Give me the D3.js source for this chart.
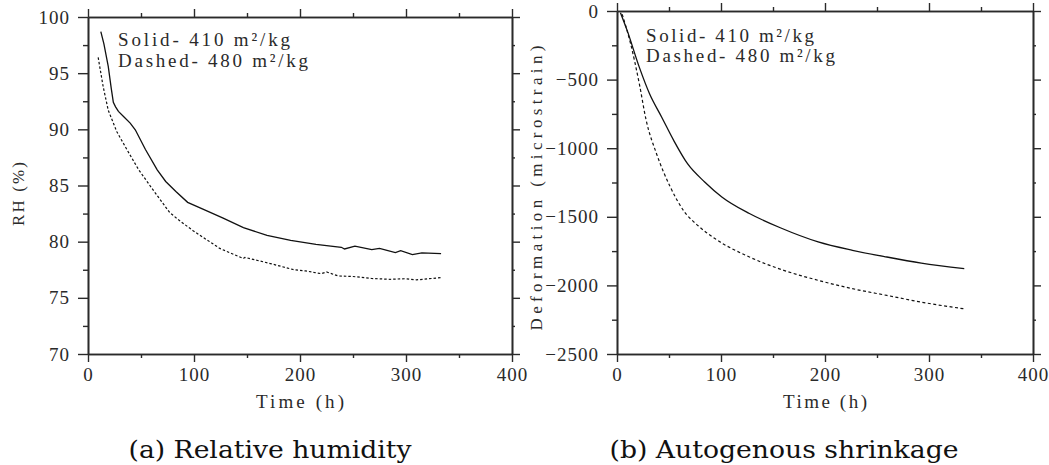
<!DOCTYPE html>
<html><head><meta charset="utf-8">
<script src="https://cdn.jsdelivr.net/npm/d3@7"></script>
<style>body{margin:0;background:#fff} svg{display:block}</style>
</head><body>
<svg id="chart" width="1049" height="465"></svg>
<script>
// ---------- data ----------
const xTicks = [0, 100, 200, 300, 400];
const xMinor = [50, 150, 250, 350];
const rhTicks = [70, 75, 80, 85, 90, 95, 100];
const rhMinor = [72.5, 77.5, 82.5, 87.5, 92.5, 97.5];
const defTicks = [0, -500, -1000, -1500, -2000, -2500];
const defMinor = [-250, -750, -1250, -1750, -2250];
const legendLabels = ["Solid- 410 m\u00b2/kg", "Dashed- 480 m\u00b2/kg"];
const xTitle = "Time (h)";
const rhTitle = "RH (%)";
const defTitle = "Deformation (microstrain)";
const captions = ["(a) Relative humidity", "(b) Autogenous shrinkage"];

const rhSolidTime  = [12.1, 15, 19.1, 22, 23.9, 26, 28.7, 34, 39.8, 44.6, 54.2, 65.3, 73.3, 82.9, 94.0, 108.4, 127.5, 146.6, 168.9, 191.2, 215.1, 239.0, 242, 251.8, 267.7, 275, 290.0, 295, 306.0, 315, 333.1];
const rhSolidValue = [98.7, 97.6, 95.6, 93.6, 92.4, 92.0, 91.6, 91.1, 90.55, 89.96, 88.2, 86.4, 85.36, 84.46, 83.5, 82.9, 82.1, 81.25, 80.56, 80.12, 79.76, 79.5, 79.35, 79.6, 79.3, 79.4, 79.02, 79.2, 78.85, 79.0, 78.93];
const rhDashedTime  = [9.6, 14.3, 19.1, 27.1, 36.7, 47.8, 62.2, 77, 86, 98.8, 124.3, 146.6, 148, 172.1, 194.4, 205, 220, 225, 235.9, 250, 267.7, 285, 299.6, 310, 333.1];
const rhDashedValue = [96.4, 93.8, 91.7, 89.8, 88.2, 86.4, 84.5, 82.6, 81.9, 81.0, 79.4, 78.5, 78.6, 78.05, 77.5, 77.4, 77.15, 77.3, 76.95, 76.9, 76.72, 76.65, 76.7, 76.6, 76.8];

const defSolidTime  = [3.3, 9.9, 21.5, 31.4, 43.0, 54.5, 67.8, 84.3, 100.8, 127.3, 157, 193.4, 226.4, 259.5, 292.6, 333.9];
const defSolidValue = [-12, -145, -411, -605, -774, -943, -1113, -1246, -1355, -1476, -1580, -1683, -1744, -1793, -1837, -1878];
const defDashedTime  = [5.0, 13.2, 21.5, 28.1, 38.0, 51.2, 64.5, 78, 94.2, 127.3, 160.3, 193.4, 226.4, 259.5, 292.6, 333.9];
const defDashedValue = [-24, -242, -532, -798, -1040, -1282, -1460, -1565, -1659, -1793, -1890, -1963, -2024, -2073, -2122, -2171];

// ---------- drawing ----------
const svg = d3.select("#chart");
svg.append("rect").attr("width", 1049).attr("height", 465).attr("fill", "#fff");
const INK = "#2a2a2a";
const tickFont = "Liberation Serif";

function zip(t, v) { return t.map((d, i) => ({t: d, v: v[i]})); }

function styleAxis(g) {
  g.selectAll("path.domain").attr("stroke", INK).attr("stroke-width", 1.6);
  g.selectAll(".tick line").attr("stroke", INK).attr("stroke-width", 1.4);
  g.selectAll(".tick text").attr("fill", INK).attr("font-family", tickFont)
    .attr("font-size", 19).attr("letter-spacing", "1px");
}

function drawPanel(p) {
  const x = d3.scaleLinear().domain([0, 400]).range([p.left, p.right]);
  const y = d3.scaleLinear().domain(p.yDomain).range([p.bottom, p.top]);
  const g = svg.append("g");

  // minor ticks
  g.append("g").attr("transform", `translate(0,${p.bottom})`)
    .call(d3.axisBottom(x).tickValues(xMinor).tickSize(4).tickSizeOuter(0).tickFormat("")).call(styleAxis);
  g.append("g").attr("transform", `translate(0,${p.top})`)
    .call(d3.axisTop(x).tickValues(xMinor).tickSize(4).tickSizeOuter(0).tickFormat("")).call(styleAxis);
  g.append("g").attr("transform", `translate(${p.left},0)`)
    .call(d3.axisLeft(y).tickValues(p.yMinor).tickSize(5).tickSizeOuter(0).tickFormat("")).call(styleAxis);
  g.append("g").attr("transform", `translate(${p.right},0)`)
    .call(d3.axisRight(y).tickValues(p.yMinor).tickSize(3).tickSizeOuter(0).tickFormat("")).call(styleAxis);

  // major ticks
  g.append("g").attr("transform", `translate(0,${p.bottom})`)
    .call(d3.axisBottom(x).tickValues(xTicks).tickSize(8).tickPadding(6).tickSizeOuter(0).tickFormat(d3.format("d"))).call(styleAxis);
  g.append("g").attr("transform", `translate(0,${p.top})`)
    .call(d3.axisTop(x).tickValues(xTicks).tickSize(8).tickSizeOuter(0).tickFormat("")).call(styleAxis);
  g.append("g").attr("transform", `translate(${p.left},0)`)
    .call(d3.axisLeft(y).tickValues(p.yTicks).tickSize(10).tickPadding(8).tickSizeOuter(0).tickFormat(d3.format("d"))).call(styleAxis);
  g.append("g").attr("transform", `translate(${p.right},0)`)
    .call(d3.axisRight(y).tickValues(p.yTicks).tickSize(8).tickSizeOuter(0).tickFormat("")).call(styleAxis);

  // curves
  const line = d3.line().x(d => x(d.t)).y(d => y(d.v)).curve(p.curve);
  g.append("path").datum(zip(p.solidT, p.solidV)).attr("d", line)
    .attr("fill", "none").attr("stroke", "#111").attr("stroke-width", 1.3);
  g.append("path").datum(zip(p.dashT, p.dashV)).attr("d", line)
    .attr("fill", "none").attr("stroke", "#111").attr("stroke-width", 1.2)
    .attr("stroke-dasharray", p.dash);

  // legend text
  legendLabels.forEach((s, i) => {
    g.append("text").attr("x", p.legX).attr("y", p.legY[i])
      .attr("font-family", tickFont).attr("font-size", 19).attr("fill", INK)
      .attr("textLength", p.legW[i]).attr("lengthAdjust", "spacing").text(s);
  });

  // axis titles
  g.append("text").attr("x", (p.left + p.right) / 2).attr("y", 408)
    .attr("text-anchor", "middle").attr("font-family", tickFont).attr("font-size", 19)
    .attr("fill", INK).attr("textLength", p.xTitleW).attr("lengthAdjust", "spacing").text(xTitle);
  g.append("text").attr("transform", `translate(${p.yTitleX},${p.yTitleY}) rotate(-90)`)
    .attr("text-anchor", "middle").attr("font-family", tickFont).attr("font-size", 17)
    .attr("fill", INK).attr("textLength", p.yTitleW).attr("lengthAdjust", "spacing").text(p.yTitle);

  // caption
  g.append("text").attr("x", p.capX).attr("y", 458).attr("text-anchor", "middle")
    .attr("font-family", "DejaVu Serif").attr("font-size", 25).attr("fill", "#111")
    .attr("textLength", p.capW).attr("lengthAdjust", "spacingAndGlyphs").text(p.caption);
}

drawPanel({
  left: 88, right: 512, top: 17, bottom: 354, yDomain: [70, 100],
  yTicks: rhTicks, yMinor: rhMinor,
  solidT: rhSolidTime, solidV: rhSolidValue, dashT: rhDashedTime, dashV: rhDashedValue,
  curve: d3.curveLinear, dash: "2.5,2",
  legX: 118, legY: [46, 67], legW: [172, 190],
  xTitleW: 88, yTitleX: 24, yTitleY: 194, yTitleW: 64, yTitle: rhTitle,
  capX: 270, capW: 283, caption: captions[0]
});
drawPanel({
  left: 617, right: 1033, top: 11, bottom: 354, yDomain: [-2500, 0],
  yTicks: defTicks, yMinor: defMinor,
  solidT: defSolidTime, solidV: defSolidValue, dashT: defDashedTime, dashV: defDashedValue,
  curve: d3.curveMonotoneX, dash: "3,2.5",
  legX: 646, legY: [42, 62], legW: [168, 189],
  xTitleW: 84, yTitleX: 542, yTitleY: 188, yTitleW: 285, yTitle: defTitle,
  capX: 784, capW: 349, caption: captions[1]
});
</script>
</body></html>
